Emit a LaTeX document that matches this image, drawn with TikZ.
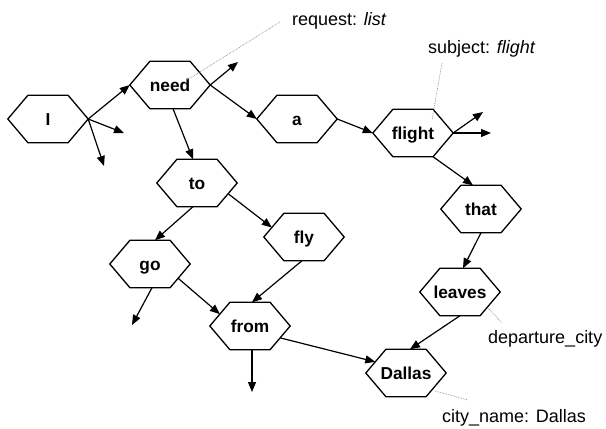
\documentclass[tikz,border=0pt]{standalone}
\usepackage{fontspec}
\setmainfont{Liberation Sans}
\usetikzlibrary{arrows.meta,calc}
\begin{document}
\begin{tikzpicture}[x=1pt,y=-1pt,
  hexnode/.style={minimum width=80pt,minimum height=47pt,inner sep=0pt,text height=12.5pt,text depth=0pt,font=\fontsize{17.3}{20}\selectfont\bfseries},
  hexline/.style={line width=1.3pt},
  edge/.style={line width=1.2pt,-{Triangle[length=10pt,width=8pt]}},
  lbl/.style={font=\fontsize{18}{21}\selectfont,inner sep=0pt},
  note/.style={black!45,densely dotted,line width=0.7pt}]
\useasboundingbox (0,0) rectangle (606,429);

% word nodes
\node[hexnode] (I) at (48,119) {I};
\node[hexnode] (need) at (170,85) {need};
\node[hexnode] (a) at (297,119) {a};
\node[hexnode] (flight) at (413,133) {flight};
\node[hexnode] (that) at (481,209) {that};
\node[hexnode] (to) at (197,183) {to};
\node[hexnode] (fly) at (304,237) {fly};
\node[hexnode] (go) at (150,264) {go};
\node[hexnode] (from) at (250,326) {from};
\node[hexnode] (leaves) at (460,292) {leaves};
\node[hexnode] (Dallas) at (406,373) {Dallas};

% hexagon outlines
\foreach \n in {I,need,a,flight,that,to,fly,go,from,leaves,Dallas}{
  \draw[hexline] (\n.west) -- ($(\n.north west)!0.25!(\n.north east)$)
    -- ($(\n.north west)!0.75!(\n.north east)$) -- (\n.east)
    -- ($(\n.south west)!0.75!(\n.south east)$)
    -- ($(\n.south west)!0.25!(\n.south east)$) -- cycle;
}

% free ends
\coordinate (Ie1) at (124,133);
\coordinate (Ie2) at (104,166);
\coordinate (needE) at (238,62);
\coordinate (flE1) at (483,112);
\coordinate (flE2) at (491,133);
\coordinate (goE) at (132,325);
\coordinate (fromE) at (252,392);

% connectors
\draw[edge] (I.east) -- (need.west);
\draw[edge] (I.east) -- (Ie1);
\draw[edge] (I.east) -- (Ie2);
\draw[edge] (need.east) -- (needE);
\draw[edge] (need.east) -- (a.west);
\draw[edge] ([xshift=3pt]need.south) -- ([xshift=-4pt]to.north);
\draw[edge] (a.east) -- (flight.west);
\draw[edge] (flight.east) -- (flE1);
\draw[edge] (flight.east) -- (flE2);
\draw[edge] ([xshift=20pt]flight.south) -- ([xshift=-8pt]that.north);
\draw[edge] (that.south) -- ([xshift=3pt]leaves.north);
\draw[edge] (leaves.south) -- ([xshift=4pt]Dallas.north);
\draw[edge] ([xshift=-4pt]to.south) -- ([xshift=5pt]go.north);
\draw[edge] ($(to.east)!0.45!([xshift=20pt]to.south)$) -- ($(fly.west)!0.4!([xshift=-20pt]fly.north)$);
\draw[edge] ([xshift=-2pt]fly.south) -- ([xshift=2pt]from.north);
\draw[edge] ($(go.east)!0.6!([xshift=20pt]go.south)$) -- ($(from.west)!0.5!([xshift=-20pt]from.north)$);
\draw[edge] ([xshift=2pt]go.south) -- (goE);
\draw[edge] ([xshift=2pt]from.south) -- (fromE);
\draw[edge] ($(from.east)!0.5!([xshift=20pt]from.south)$) -- ($(Dallas.west)!0.47!([xshift=-20pt]Dallas.north)$);

% annotations
\node[lbl,anchor=base west] (req) at (292,25) {request: \textit{list}};
\node[lbl,anchor=base west] (subj) at (428,53) {subject: \textit{flight}};
\node[lbl,anchor=base west] (dep) at (488,343) {departure\_city};
\node[lbl,anchor=base west] (cn) at (442,422) {city\_name: Dallas};
\coordinate (reqA) at (280,22);
\coordinate (reqB) at (187,80);
\coordinate (subA) at (442,63);
\coordinate (subB) at (432,120);
\coordinate (depA) at (488,308);
\coordinate (depB) at (502,323);
\coordinate (cnA) at (435,391);
\coordinate (cnB) at (468,400);
\draw[note] (reqA) -- (reqB);
\draw[note] (subA) -- (subB);
\draw[note] (depA) -- (depB);
\draw[note] (cnA) -- (cnB);
\end{tikzpicture}
\end{document}
